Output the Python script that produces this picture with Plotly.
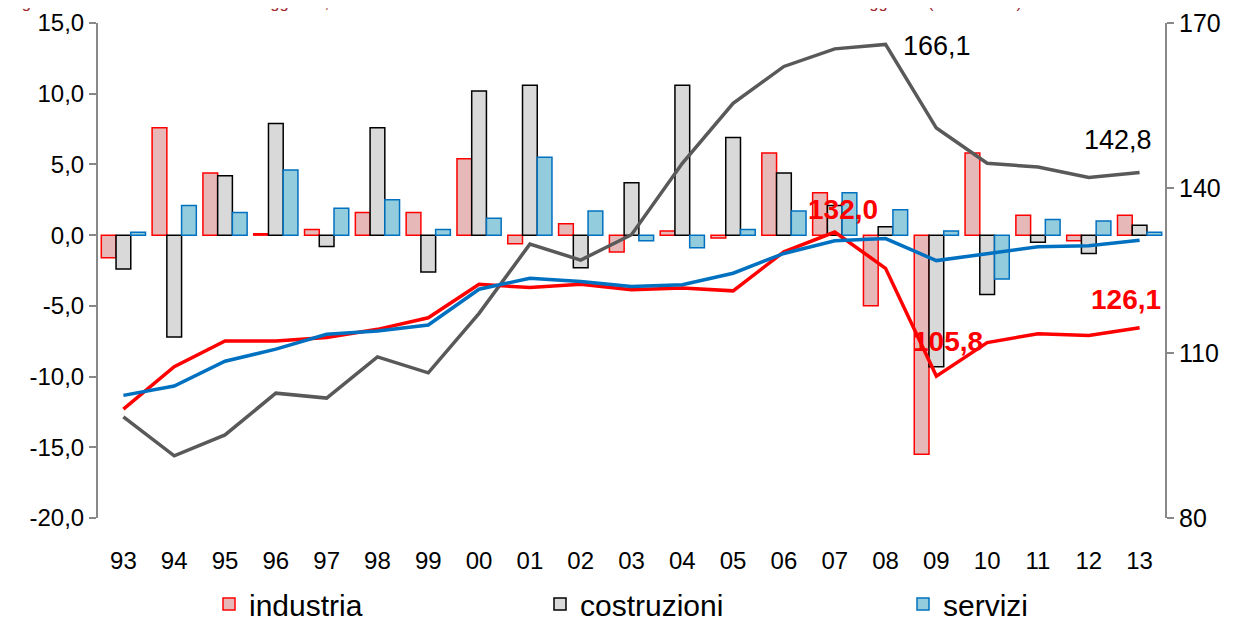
import plotly.graph_objects as go

# ------------------ data ------------------
anni = ["93", "94", "95", "96", "97", "98", "99", "00", "01", "02", "03",
        "04", "05", "06", "07", "08", "09", "10", "11", "12", "13"]

# tassi di variazione annui (asse sinistro)
var_industria = [-1.6, 7.6, 4.4, 0.1, 0.4, 1.6, 1.6, 5.4, -0.6, 0.8, -1.2,
                 0.3, -0.2, 5.8, 3.0, -5.0, -15.5, 5.8, 1.4, -0.4, 1.4]
var_costruzioni = [-2.4, -7.2, 4.2, 7.9, -0.8, 7.6, -2.6, 10.2, 10.6, -2.3, 3.7,
                   10.6, 6.9, 4.4, 2.1, 0.6, -9.3, -4.2, -0.5, -1.3, 0.7]
var_servizi = [0.2, 2.1, 1.6, 4.6, 1.9, 2.5, 0.4, 1.2, 5.5, 1.7, -0.4,
               -0.9, 0.4, 1.7, 3.0, 1.8, 0.3, -3.1, 1.1, 1.0, 0.2]

# numeri indice (asse destro)
idx_industria = [99.8, 107.5, 112.2, 112.2, 112.8, 114.3, 116.4, 122.5, 121.9, 122.5, 121.5,
                 121.8, 121.3, 128.4, 132.0, 125.4, 105.8, 111.9, 113.5, 113.2, 114.6]
idx_costruzioni = [98.4, 91.3, 95.1, 102.7, 101.8, 109.3, 106.4, 117.2, 129.8, 126.9, 131.5,
                   144.5, 155.4, 162.1, 165.3, 166.1, 150.9, 144.5, 143.8, 141.9, 142.8]
idx_servizi = [102.3, 104.0, 108.5, 110.7, 113.4, 114.0, 115.1, 121.6, 123.6, 123.0, 122.1,
               122.4, 124.5, 128.1, 130.4, 130.8, 126.8, 128.1, 129.3, 129.5, 130.5]

# etichette degli assi
tick_sx = [-20, -15, -10, -5, 0, 5, 10, 15]
tick_sx_txt = ["-20,0", "-15,0", "-10,0", "-5,0", "0,0", "5,0", "10,0", "15,0"]
tick_dx = [80, 110, 140, 170]

titolo = ("Figura 3.5 - Andamento del valore aggiunto, tassi medi di variazione annui "
          "in termini reali e numero indice del valore aggiunto (1993 = 100)")

FONT = "Liberation Sans, Arial, sans-serif"

fig = go.Figure()

# ------------------ barre ------------------
bar_styles = [
    ("industria", var_industria, "#E6B9B8", "#FF0000", "legend"),
    ("costruzioni", var_costruzioni, "#D9D9D9", "#000000", "legend2"),
    ("servizi", var_servizi, "#93CDDD", "#0070C0", "legend3"),
]
for name, vals, fill, border, leg in bar_styles:
    fig.add_trace(go.Bar(
        x=anni, y=vals, name=name, legend=leg,
        marker=dict(color=fill, line=dict(color=border, width=1.5)),
        yaxis="y",
    ))

# ------------------ linee ------------------
for vals, col in [(idx_costruzioni, "#595959"),
                  (idx_industria, "#FF0000"),
                  (idx_servizi, "#0070C0")]:
    fig.add_trace(go.Scatter(
        x=anni, y=vals, mode="lines", yaxis="y2", showlegend=False,
        line=dict(color=col, width=3.5),
    ))

# ------------------ etichette dei valori ------------------
# (anno, serie, testo, colore, grassetto, xshift, yshift)
labels = [
    ("08", idx_costruzioni, "166,1", "#000000", False, 51, -2),
    ("13", idx_costruzioni, "142,8", "#000000", False, -22, 33),
    ("07", idx_industria, "132,0", "#FF0000", True, 8, 23),
    ("09", idx_industria, "105,8", "#FF0000", True, 12, 35),
    ("13", idx_industria, "126,1", "#FF0000", True, -14, 28),
]
for anno, serie, txt, col, bold, xs, ys in labels:
    i = anni.index(anno)
    fig.add_annotation(
        x=i, y=serie[i], xref="x", yref="y2",
        text=f"<b>{txt}</b>" if bold else txt,
        showarrow=False, xshift=xs, yshift=ys,
        font=dict(family=FONT, size=28 if bold else 27, color=col),
    )

leg_common = dict(orientation="h", y=-86 / 495, yanchor="middle",
                  font=dict(size=30), bgcolor="rgba(0,0,0,0)")

# la pagina html ha 8px di margine sul body: dimensioni e margini compensati
fig.update_layout(
    width=1230, height=611,
    margin=dict(l=90, r=73, t=15, b=101, autoexpand=False),
    paper_bgcolor="white", plot_bgcolor="white",
    separators=",.",
    font=dict(family=FONT, size=24, color="#000000"),
    title=dict(text=titolo, xref="container", yref="container", x=0.0, y=1.0,
               xanchor="left", yanchor="bottom", pad=dict(t=0, b=0, l=0, r=0),
               font=dict(family=FONT, size=16.5, color="#A0282D")),
    barmode="group", bargap=0.13, bargroupgap=0,
    xaxis=dict(type="category", showline=False, showgrid=False, ticks="",
               ticklabelstandoff=26, tickfont=dict(size=24)),
    yaxis=dict(range=[-20, 15], tickvals=tick_sx, ticktext=tick_sx_txt,
               showgrid=False, zeroline=False, showline=True,
               linecolor="#888888", linewidth=2, ticks="outside", ticklen=7,
               tickcolor="#888888", tickwidth=2, tickfont=dict(size=24)),
    yaxis2=dict(range=[80, 170], tickvals=tick_dx, overlaying="y", side="right",
                showgrid=False, zeroline=False, showline=True, linecolor="#888888",
                linewidth=2, ticks="outside", ticklen=7, tickcolor="#888888",
                tickwidth=2, tickfont=dict(size=25)),
    legend=dict(x=(209 - 98) / 1067, **leg_common),
    legend2=dict(x=(540 - 98) / 1067, **leg_common),
    legend3=dict(x=(903 - 98) / 1067, **leg_common),
)

fig.write_html("out.html")
